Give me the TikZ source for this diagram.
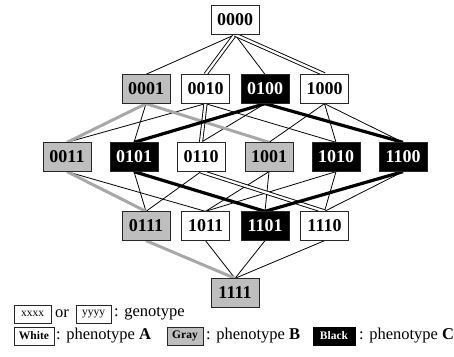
\documentclass[tikz,border=0pt]{standalone}
\usepackage{fontspec}
\setmainfont{Liberation Serif}
\usetikzlibrary{backgrounds}
\definecolor{boxgray}{HTML}{BEBEBE}
\definecolor{linegray}{HTML}{A8A8A8}
\begin{document}
\begin{tikzpicture}[x=1pt,y=1pt,
  gt/.style={draw=black!85, line width=0.8pt, minimum width=48pt, minimum height=28.5pt,
             inner sep=0pt, font=\fontsize{18}{18}\selectfont\bfseries},
  pa/.style={gt, fill=white},
  pb/.style={gt, fill=boxgray},
  pc/.style={gt, fill=black, text=white},
  plainedge/.style={line width=0.8pt},
  grayedge/.style={line width=3pt, draw=linegray},
  blackedge/.style={line width=3.2pt},
  dbledge/.style={line width=0.9pt, double=white, double distance=2.3pt},
  lgbox/.style={draw=black!85, line width=0.6pt, minimum height=18pt, inner sep=0pt,
                font=\fontsize{11.5}{11.5}\selectfont},
  lgtext/.style={inner sep=0pt, anchor=west, font=\fontsize{16.5}{16.5}\selectfont}
]
\useasboundingbox (0,0) rectangle (454,356);

% genotype lattice, one row per number of 1-bits
\node[pa] (n0000) at (235,336) {0000};

\node[pb] (n0001) at (146,267) {0001};
\node[pa] (n0010) at (205.5,267) {0010};
\node[pc] (n0100) at (265,267) {0100};
\node[pa] (n1000) at (324.5,267) {1000};

\node[pb] (n0011) at (67,199) {0011};
\node[pc] (n0101) at (134,199) {0101};
\node[pa] (n0110) at (201,199) {0110};
\node[pb] (n1001) at (269,199) {1001};
\node[pc] (n1010) at (336,199) {1010};
\node[pc] (n1100) at (403,199) {1100};

\node[pb] (n0111) at (146,130) {0111};
\node[pa] (n1011) at (205.5,130) {1011};
\node[pc] (n1101) at (265,130) {1101};
\node[pa] (n1110) at (324.5,130) {1110};

\node[pb] (n1111) at (235,63) {1111};

% single-bit mutations between neighbouring genotypes
\begin{scope}[on background layer]
  \foreach \a/\b in {0000/0001, 0000/0100,
                     0001/0101, 0010/0011, 0010/1010, 0100/0110,
                     1000/1001, 1000/1010, 1000/1100,
                     0011/1011, 0101/0111, 0110/0111, 1001/1011, 1001/1101,
                     1010/1011, 1010/1110, 1100/1110,
                     1011/1111, 1101/1111, 1110/1111}
    \draw[plainedge] (n\a.south) -- (n\b.north);
  \foreach \a/\b in {0001/0011, 0001/1001, 0011/0111, 0111/1111}
    \draw[grayedge] (n\a.south) -- (n\b.north);
  \foreach \a/\b in {0000/0010, 0000/1000, 0010/0110, 0110/1110}
    \draw[dbledge] (n\a.south) -- (n\b.north);
  \foreach \a/\b in {0100/0101, 0100/1100, 0101/1101, 1100/1101}
    \draw[blackedge] (n\a.south) -- (n\b.north);
\end{scope}

% legend
\node[lgbox, minimum width=37pt] (kx) at (32.5,42) {xxxx};
\node[inner sep=0pt, font=\fontsize{16.5}{16.5}\selectfont] (kor) at (62,42) {or};
\node[lgbox, minimum width=35pt] (ky) at (93.5,42) {yyyy};
\node[lgtext] (kgen) at (114,42) {: genotype};

\node[lgbox, minimum width=40pt, fill=white, font=\fontsize{11.5}{11.5}\selectfont\bfseries] (kw) at (34,20) {White};
\node[lgtext] (kwa) at (56,20) {: phenotype \textbf{A}};
\node[lgbox, minimum width=36pt, fill=boxgray, font=\fontsize{11.5}{11.5}\selectfont\bfseries] (kg) at (185,20) {Gray};
\node[lgtext] (kgb) at (206,20) {: phenotype \textbf{B}};
\node[lgbox, minimum width=42pt, fill=black, draw=black, text=white, font=\fontsize{11.5}{11.5}\selectfont\bfseries] (kb) at (334,20) {Black};
\node[lgtext] (kbc) at (359,20) {: phenotype \textbf{C}};
\end{tikzpicture}
\end{document}
